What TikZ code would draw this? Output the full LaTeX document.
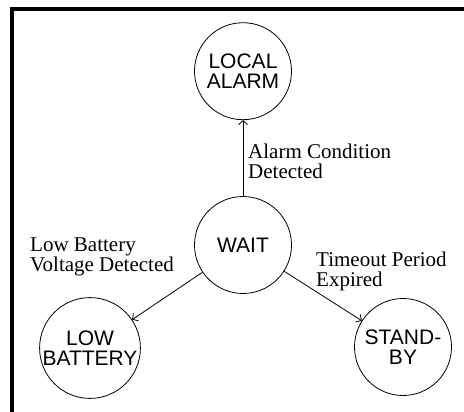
\documentclass[tikz,border=0pt]{standalone}
\usepackage{fontspec}
\setmainfont{Liberation Serif}
\setsansfont{Liberation Sans}
\usetikzlibrary{arrows.meta, positioning}

\begin{document}
\begin{tikzpicture}[
  x=1pt, y=-1pt,
  state/.style={draw, circle, minimum size=97pt, inner sep=0pt, align=center,
                line width=0.8pt, font=\sffamily\fontsize{21}{20}\selectfont},
  arr/.style={-{Straight Barb[length=4pt, width=9pt]}, line width=0.8pt},
  lbl/.style={anchor=north west, align=left, inner sep=0pt,
              font=\fontsize{21}{20}\selectfont},
  frame/.style={line width=4pt}
]
  \useasboundingbox (0,0) rectangle (464,412);
  \draw[frame] (10,9) -- (464,9);
  \draw[frame] (12,7) -- (12,412);

  \node[state] (wait) at (243,245) {WAIT};
  \node[state, above=76pt of wait] (alarm) {LOCAL\\ALARM};
  \node[state] (lowbat)  at (90,348)  {LOW\\BATTERY};
  \node[state] (standby) at (403,347) {STAND-\\BY};

  \draw[arr] (wait) -- (alarm);
  \draw[arr] (wait) -- (lowbat);
  \draw[arr] (wait) -- (standby);

  \node[lbl] (alarmlbl)   at (248,144) {Alarm Condition\\Detected};
  \node[lbl] (lowbatlbl)  at (30,238)  {Low Battery\\Voltage Detected};
  \node[lbl] (standbylbl) at (316,252) {Timeout Period\\Expired};
\end{tikzpicture}
\end{document}
